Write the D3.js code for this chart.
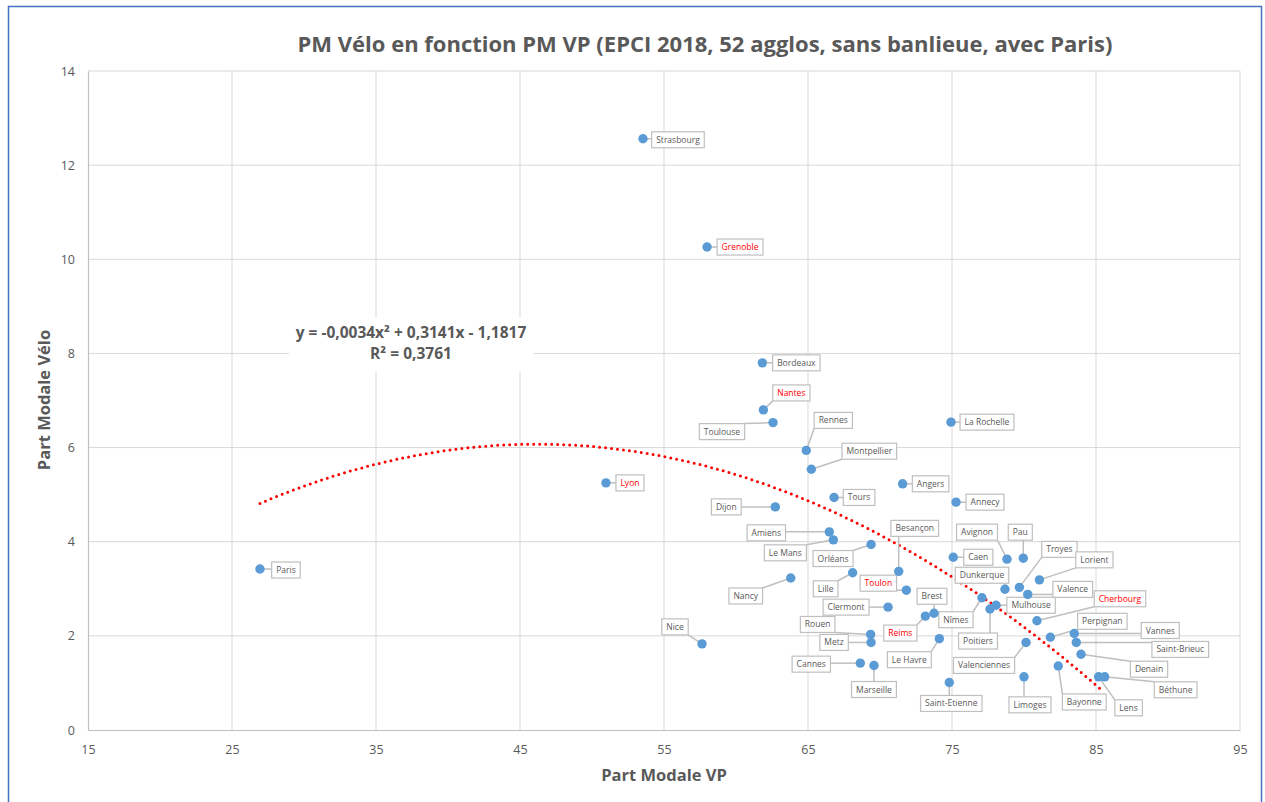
<!DOCTYPE html>
<html>
<head>
<meta charset="utf-8">
<script src="https://cdn.jsdelivr.net/npm/d3@7/dist/d3.min.js"></script>
<style>
  body { margin: 0; background: #fff; }
  text { font-family: "Open Sans", "Noto Sans", sans-serif; }
</style>
</head>
<body>
<div id="chart"></div>
<script>
// data
var cities = ["Paris", "Strasbourg", "Grenoble", "Bordeaux", "Nantes", "Toulouse", "Rennes", "Montpellier",
  "La Rochelle", "Angers", "Tours", "Annecy", "Dijon", "Lyon", "Nice", "Amiens", "Le Mans", "Orléans",
  "Nancy", "Lille", "Besançon", "Toulon", "Clermont", "Brest", "Reims", "Rouen", "Metz", "Le Havre",
  "Cannes", "Marseille", "Saint-Etienne", "Caen", "Avignon", "Pau", "Troyes", "Lorient", "Valence",
  "Dunkerque", "Nîmes", "Mulhouse", "Poitiers", "Cherbourg", "Perpignan", "Vannes", "Saint-Brieuc",
  "Valenciennes", "Denain", "Bayonne", "Limoges", "Béthune", "Lens"];
var pmVP = [26.94, 53.54, 57.99, 61.83, 61.9, 62.57, 64.88, 65.23,
  74.93, 71.57, 66.81, 75.28, 62.73, 50.97, 57.64, 66.48, 66.76, 69.38,
  63.8, 68.1, 71.3, 71.83, 70.56, 73.75, 73.15, 69.35, 69.38, 74.12,
  68.63, 69.58, 74.81, 75.09, 78.82, 79.95, 79.68, 81.07, 80.26,
  78.68, 77.08, 78.06, 77.64, 80.9, 81.83, 83.49, 83.63,
  80.14, 83.96, 82.38, 80.0, 85.6, 85.18];
var pmVelo = [3.42, 12.56, 10.26, 7.8, 6.8, 6.53, 5.94, 5.54,
  6.54, 5.23, 4.94, 4.84, 4.74, 5.25, 1.83, 4.21, 4.04, 3.94,
  3.23, 3.34, 3.37, 2.97, 2.61, 2.48, 2.42, 2.03, 1.86, 1.94,
  1.42, 1.37, 1.01, 3.67, 3.63, 3.65, 3.03, 3.19, 2.88,
  2.99, 2.81, 2.65, 2.57, 2.32, 1.97, 2.05, 1.86,
  1.86, 1.61, 1.36, 1.13, 1.13, 1.13];
var redCities = ["Grenoble", "Nantes", "Lyon", "Toulon", "Reims", "Cherbourg"];
var xTicks = [15, 25, 35, 45, 55, 65, 75, 85, 95];
var yTicks = [0, 2, 4, 6, 8, 10, 12, 14];
var trendCoef = [-0.0034, 0.3141, -1.1817];

// label box offsets from the point (px), as in the original layout
var labelDx = [26, 35, 33, 34, 28, -51, 27, 58,
  36, 28, 25, 29, -49, 24, -27, -63, -48, -38,
  -45, -27, 16, -28, -42, -2, -25, -53, -37, -30,
  -49, 0, 2, 25, -30, -3, 40, 55, 45,
  -23, -26, 35, -12, 83, 52, 86, 104,
  -42, 68, 26, 6, 71, 30];
var labelDy = [1, 1, 0, 0, -17, 9, -30, -18,
  0, 0, 0, 0, 0, 0, -17, 1, 13, 14,
  18, 16, -43, -7, 0, -17, 17, -10, 0, 21,
  1, 24, 21, 0, -27, -26, -38, -20, -5,
  -14, 22, 0, 32, -22, -16, -3, 7,
  23, 15, 36, 28, 13, 31];

var W = 1265, H = 802;
var svg = d3.select("#chart").append("svg")
  .attr("width", W)
  .attr("height", H);

svg.append("rect")
  .attr("x", 8.5).attr("y", 6.5)
  .attr("width", 1253).attr("height", 800)
  .attr("fill", "#fff")
  .attr("stroke", "#4472c4")
  .attr("stroke-width", 1.5);

var x = d3.scaleLinear().domain([15, 95]).range([88, 1240]);
var y = d3.scaleLinear().domain([0, 14]).range([730, 71]);

// gridlines
svg.append("g").selectAll("line.v")
  .data(xTicks.slice(1))
  .enter().append("line")
  .attr("x1", d => x(d)).attr("x2", d => x(d))
  .attr("y1", y(14)).attr("y2", y(0))
  .attr("stroke", "#d9d9d9").attr("stroke-width", 1);
svg.append("g").selectAll("line.h")
  .data(yTicks.slice(1))
  .enter().append("line")
  .attr("x1", x(15)).attr("x2", x(95))
  .attr("y1", d => y(d)).attr("y2", d => y(d))
  .attr("stroke", "#d9d9d9").attr("stroke-width", 1);

// axes
var xAxis = svg.append("g")
  .attr("transform", "translate(0," + y(0) + ")")
  .call(d3.axisBottom(x).tickValues(xTicks).tickSize(0).tickPadding(15));
var yAxis = svg.append("g")
  .attr("transform", "translate(" + x(15) + ",0)")
  .call(d3.axisLeft(y).tickValues(yTicks).tickSize(0).tickPadding(13));
[xAxis, yAxis].forEach(function(g) {
  g.select(".domain").attr("stroke", "#bfbfbf").attr("stroke-width", 1.2);
  g.selectAll("text").attr("fill", "#595959")
    .style("font-size", "12.5px").style("font-family", "'Open Sans', sans-serif");
});

// equation box
svg.append("rect")
  .attr("x", 289).attr("y", 318).attr("width", 245).attr("height", 54)
  .attr("fill", "#fff");

// trendline
var xs = d3.range(d3.min(pmVP), d3.max(pmVP) + 0.01, 0.25);
var trend = d3.line()
  .x(d => x(d))
  .y(d => y(trendCoef[0] * d * d + trendCoef[1] * d + trendCoef[2]));
svg.append("path")
  .datum(xs)
  .attr("d", trend)
  .attr("fill", "none")
  .attr("stroke", "#ff0000")
  .attr("stroke-width", 3)
  .attr("stroke-linecap", "round")
  .attr("stroke-dasharray", "0 6");

svg.append("text")
  .attr("x", 411).attr("y", 338)
  .attr("text-anchor", "middle")
  .attr("fill", "#595959")
  .style("font-size", "15.5px").style("font-weight", "bold")
  .text("y = -0,0034x² + 0,3141x - 1,1817");
svg.append("text")
  .attr("x", 411).attr("y", 359)
  .attr("text-anchor", "middle")
  .attr("fill", "#595959")
  .style("font-size", "15.5px").style("font-weight", "bold")
  .text("R² = 0,3761");

// labels (leader lines + boxes)
var leaders = svg.append("g");
var boxes = svg.append("g");
cities.forEach(function(c, i) {
  var px = x(pmVP[i]), py = y(pmVelo[i]);
  var cx = px + labelDx[i], cy = py + labelDy[i];
  var g = boxes.append("g");
  var t = g.append("text")
    .attr("x", cx).attr("y", cy + 3)
    .attr("text-anchor", "middle")
    .attr("fill", redCities.indexOf(c) >= 0 ? "#ff0000" : "#595959")
    .style("font-size", "8.5px")
    .text(c);
  var w = t.node().getComputedTextLength() + 9, h = 16;
  g.insert("rect", "text")
    .attr("x", cx - w / 2).attr("y", cy - h / 2)
    .attr("width", w).attr("height", h)
    .attr("fill", "#fff")
    .attr("stroke", "#bfbfbf")
    .attr("stroke-width", 1.2);
  var ex = Math.max(cx - w / 2, Math.min(px, cx + w / 2));
  var ey = Math.max(cy - h / 2, Math.min(py, cy + h / 2));
  leaders.append("line")
    .attr("x1", px).attr("y1", py)
    .attr("x2", ex).attr("y2", ey)
    .attr("stroke", "#bfbfbf")
    .attr("stroke-width", 1.5);
});

// points
svg.append("g").selectAll("circle")
  .data(cities)
  .enter().append("circle")
  .attr("cx", (d, i) => x(pmVP[i]))
  .attr("cy", (d, i) => y(pmVelo[i]))
  .attr("r", 4.7)
  .attr("fill", "#5b9bd5");

// titles
svg.append("text")
  .attr("x", 705).attr("y", 52)
  .attr("text-anchor", "middle")
  .attr("fill", "#595959")
  .style("font-size", "22px").style("font-weight", "bold")
  .text("PM Vélo en fonction PM VP (EPCI 2018, 52 agglos, sans banlieue, avec Paris)");
svg.append("text")
  .attr("x", 664).attr("y", 781)
  .attr("text-anchor", "middle")
  .attr("fill", "#595959")
  .style("font-size", "16.5px").style("font-weight", "bold")
  .text("Part Modale VP");
svg.append("text")
  .attr("transform", "translate(50," + 400 + ") rotate(-90)")
  .attr("text-anchor", "middle")
  .attr("fill", "#595959")
  .style("font-size", "16.5px").style("font-weight", "bold")
  .text("Part Modale Vélo");
</script>
</body>
</html>
